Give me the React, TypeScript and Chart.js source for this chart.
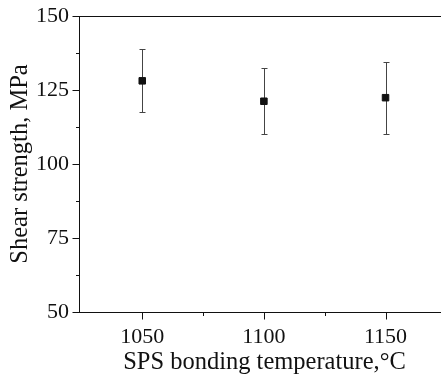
import { useEffect, useRef } from "react";
import { Chart, registerables } from "chart.js";

Chart.register(...registerables);

const temperatures = [1050, 1100, 1150];
const shearStrength = [128.1, 121.2, 122.4];
const errorLow = [117.4, 110.0, 110.3];
const errorHigh = [138.7, 132.3, 134.3];

const xAxisMin = 1024;
const xAxisMax = 1176.5;
const yAxisMin = 50;
const yAxisMax = 150;
const xMajorTicks = [1050, 1100, 1150];
const xMinorTicks = [1075, 1125];
const yMajorTicks = [50, 75, 100, 125, 150];
const yMinorTicks = [62.5, 87.5, 112.5, 137.5];

const xTitle = "SPS bonding temperature,°C";
const yTitle = "Shear strength, MPa";

const FONT = "'Liberation Serif', 'Times New Roman', serif";

const errorBarPlugin = {
  id: "errorBars",
  beforeDatasetsDraw(chart: any) {
    const { ctx, scales } = chart;
    const xs = scales.x;
    const ys = scales.y;
    ctx.save();
    ctx.strokeStyle = "#444444";
    ctx.lineWidth = 1;
    temperatures.forEach((t, i) => {
      const x = Math.round(xs.getPixelForValue(t)) + 0.5;
      const yHi = Math.round(ys.getPixelForValue(errorHigh[i])) + 0.5;
      const yLo = Math.round(ys.getPixelForValue(errorLow[i])) + 0.5;
      ctx.beginPath();
      ctx.moveTo(x, yHi);
      ctx.lineTo(x, yLo);
      ctx.moveTo(x - 3, yHi);
      ctx.lineTo(x + 3, yHi);
      ctx.moveTo(x - 3, yLo);
      ctx.lineTo(x + 3, yLo);
      ctx.stroke();
    });
    ctx.restore();
  },
};

const axisDecorPlugin = {
  id: "axisDecor",
  afterDraw(chart: any) {
    const { ctx, chartArea, scales } = chart;
    const xs = scales.x;
    const ys = scales.y;
    ctx.save();
    ctx.fillStyle = "#ffffff";
    ctx.fillRect(chartArea.right - 3, chartArea.top + 1, 3, chartArea.bottom - chartArea.top - 2);
    ctx.strokeStyle = "#111111";
    ctx.lineWidth = 1;
    ctx.beginPath();
    const top = Math.round(chartArea.top) + 0.5;
    ctx.moveTo(chartArea.left, top);
    ctx.lineTo(chartArea.right, top);
    const left = Math.round(chartArea.left) + 0.5;
    const bottom = Math.round(chartArea.bottom) + 0.5;
    const drawY = (v: number, len: number) => {
      const y = Math.round(ys.getPixelForValue(v)) + 0.5;
      ctx.moveTo(left - len, y);
      ctx.lineTo(left, y);
    };
    const drawX = (v: number, len: number) => {
      const x = Math.round(xs.getPixelForValue(v)) + 0.5;
      ctx.moveTo(x, bottom);
      ctx.lineTo(x, bottom + len);
    };
    yMajorTicks.forEach((v) => drawY(v, 7));
    yMinorTicks.forEach((v) => drawY(v, 3.5));
    xMajorTicks.forEach((v) => drawX(v, 7));
    xMinorTicks.forEach((v) => drawX(v, 3.5));
    ctx.stroke();
    ctx.restore();
  },
};

export default function App() {
  const canvasRef = useRef<HTMLCanvasElement | null>(null);

  useEffect(() => {
    document.body.style.margin = "0";
    const canvas = canvasRef.current;
    if (!canvas) return;
    const chart = new Chart(canvas, {
      type: "scatter",
      data: {
        datasets: [
          {
            data: temperatures.map((t, i) => ({ x: t, y: shearStrength[i] })),
            pointStyle: "rect",
            pointRadius: 4.6,
            pointBackgroundColor: "#111111",
            pointBorderColor: "#111111",
            pointBorderWidth: 1,
            showLine: false,
          },
        ],
      },
      options: {
        responsive: false,
        animation: false,
        devicePixelRatio: 1,
        layout: { autoPadding: false, padding: { top: 16, left: 0, right: 0, bottom: 0 } },
        plugins: {
          legend: { display: false },
          tooltip: { enabled: false },
        },
        scales: {
          x: {
            type: "linear",
            min: xAxisMin,
            max: xAxisMax,
            afterBuildTicks: (scale: any) => {
              scale.ticks = xMajorTicks.map((v) => ({ value: v }));
            },
            afterFit: (scale: any) => {
              scale.height = 64;
              scale.paddingLeft = 0;
              scale.paddingRight = 0;
            },
            grid: {
              display: true,
              drawOnChartArea: false,
              drawTicks: true,
              tickLength: 7,
              tickColor: "rgba(0,0,0,0)",
            },
            border: { display: true, color: "#111111", width: 1 },
            ticks: {
              padding: 5.5,
              color: "#111111",
              font: { family: FONT, size: 22 },
              maxRotation: 0,
              autoSkip: false,
              callback: (v: any) => String(v),
            },
            title: {
              display: true,
              text: xTitle,
              color: "#111111",
              font: { family: FONT, size: 24.5 },
              padding: { top: 0, bottom: -1 },
            },
          },
          y: {
            type: "linear",
            min: yAxisMin,
            max: yAxisMax,
            afterBuildTicks: (scale: any) => {
              scale.ticks = yMajorTicks.map((v) => ({ value: v }));
            },
            afterFit: (scale: any) => {
              scale.width = 79;
              scale.paddingTop = 0;
              scale.paddingBottom = 0;
            },
            grid: {
              display: true,
              drawOnChartArea: false,
              drawTicks: true,
              tickLength: 7,
              tickColor: "rgba(0,0,0,0)",
            },
            border: { display: true, color: "#111111", width: 1 },
            ticks: {
              padding: 3,
              color: "#111111",
              font: { family: FONT, size: 22 },
              autoSkip: false,
              callback: (v: any) => String(v),
            },
            title: {
              display: true,
              text: yTitle,
              color: "#111111",
              font: { family: FONT, size: 24.5 },
              padding: { top: 5.5, bottom: 0 },
            },
          },
        },
      },
      plugins: [errorBarPlugin, axisDecorPlugin],
    });
    return () => chart.destroy();
  }, []);

  return (
    <div
      style={{
        position: "absolute",
        left: 0,
        top: 0,
        width: 441,
        height: 376,
        overflow: "hidden",
        background: "#ffffff",
      }}
    >
      <div style={{ width: 450, height: 376 }}>
        <canvas ref={canvasRef} width={450} height={376} style={{ width: 450, height: 376, display: "block" }} />
      </div>
    </div>
  );
}
